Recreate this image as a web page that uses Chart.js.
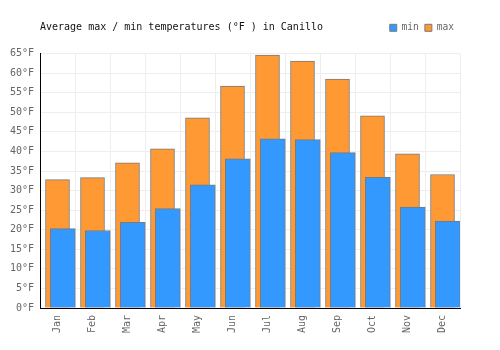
<!DOCTYPE html>
<html>
<head>
<meta charset="utf-8">
<script src="https://cdn.jsdelivr.net/npm/chart.js@4/dist/chart.umd.min.js"></script>
<style>
html,body{margin:0;padding:0;background:#fff;}
#wrap{width:500px;height:350px;position:relative;}
</style>
</head>
<body>
<div id="wrap"><canvas id="c" width="500" height="350"></canvas></div>
<script>
const titleText = "Average max / min temperatures (°F ) in Canillo";
const months = ["Jan","Feb","Mar","Apr","May","Jun","Jul","Aug","Sep","Oct","Nov","Dec"];
const minTemps = [20.3,19.8,21.9,25.4,31.5,38.1,43.2,43.0,39.7,33.4,25.8,22.2];
const maxTemps = [32.8,33.3,37.1,40.7,48.6,56.7,64.6,63.1,58.5,49.1,39.4,34.1];
const yTicks = [0,5,10,15,20,25,30,35,40,45,50,55,60,65];

const FONT = "'DejaVu Sans Mono', monospace";
const edge = '#7a7a7a';
// the min bars sit a little right of the category centre (fraction of a category)
const MIN_SHIFT = 0.152;

const titlePlugin = {
  id: 'sideTitle',
  afterDraw(chart) {
    const ctx = chart.ctx;
    ctx.save();
    ctx.font = "10px " + FONT;
    ctx.fillStyle = '#111';
    ctx.textBaseline = 'middle';
    ctx.textAlign = 'left';
    ctx.fillText(titleText, chart.chartArea.left, 27);
    ctx.restore();
  }
};

new Chart(document.getElementById('c'), {
  type: 'bar',
  data: {
    labels: months,
    datasets: [
      { label: 'min', data: minTemps.map((v, i) => ({ x: i, y: v })), xAxisID: 'x2',
        backgroundColor: '#3399ff', borderColor: edge, borderWidth: 1,
        grouped: false, barThickness: 25 },
      { label: 'max', data: maxTemps, xAxisID: 'x',
        backgroundColor: '#ff9933', borderColor: edge, borderWidth: 1,
        grouped: false, barThickness: 24 }
    ]
  },
  options: {
    responsive: false,
    animation: false,
    layout: { padding: { left: 0, right: 40, top: 17, bottom: 0 } },
    plugins: {
      tooltip: { enabled: false },
      title: { display: false },
      subtitle: { display: true, text: '', weight: 500, padding: 0, font: { size: 11, lineHeight: 1 } },
      legend: {
        display: true,
        position: 'top',
        align: 'end',
        labels: {
          boxWidth: 7, boxHeight: 7, padding: 6,
          color: '#666',
          font: { family: FONT, size: 9.6 }
        }
      }
    },
    scales: {
      x: {
        type: 'category',
        offset: true,
        grid: { offset: true, color: '#eeeeee', drawTicks: false },
        border: { color: '#000', width: 1 },
        ticks: { color: '#666', font: { family: FONT, size: 10 }, maxRotation: 90, minRotation: 90, padding: 7 },
        afterFit(scale) { scale.height = 42; }
      },
      x2: {
        type: 'linear',
        display: false,
        offset: false,
        grid: { offset: false },
        min: -0.5 - MIN_SHIFT,
        max: months.length - 0.5 - MIN_SHIFT
      },
      y: {
        min: 0, max: 65,
        grid: { color: '#eeeeee', drawTicks: false },
        border: { color: '#000', width: 1 },
        afterBuildTicks(scale) { scale.ticks = yTicks.map(v => ({ value: v })); },
        ticks: { color: '#666', font: { family: FONT, size: 10 }, padding: 6,
                 callback: (v) => v + '°F' },
        afterFit(scale) { scale.width = 40; }
      }
    }
  },
  plugins: [titlePlugin]
});
</script>
</body>
</html>
